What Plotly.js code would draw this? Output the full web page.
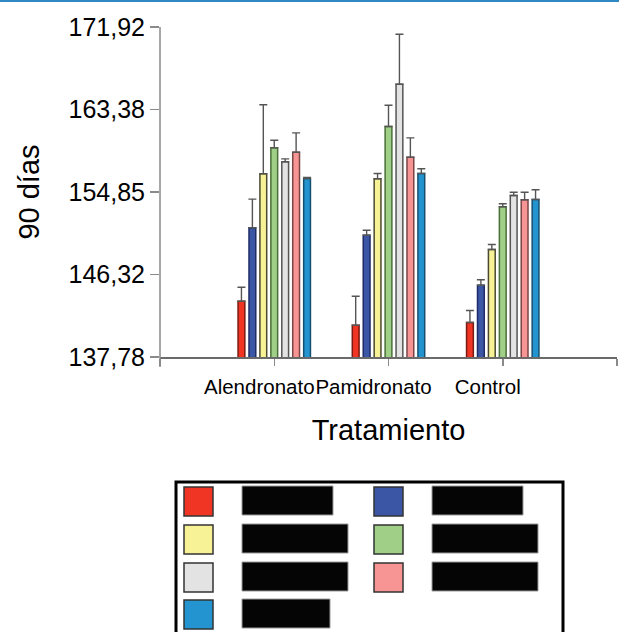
<!DOCTYPE html>
<html>
<head>
<meta charset="utf-8">
<script src="https://cdn.plot.ly/plotly-3.0.1.min.js"></script>
<style>
  html, body { margin: 0; padding: 0; background: #fff; }
  #chart { width: 619px; height: 632px; }
</style>
</head>
<body>
<div id="chart"></div>
<script>
// ---- data ----
const categories = ['Alendronato', 'Pamidronato', 'Control'];
const seriesNames = ['Serie 1', 'Serie 2', 'Serie 3', 'Serie 4', 'Serie 5', 'Serie 6', 'Serie 7'];
const s1 = [143.55, 141.07, 141.35];
const s2 = [151.15, 150.38, 145.21];
const s3 = [156.73, 156.21, 148.90];
const s4 = [159.42, 161.63, 153.32];
const s5 = [157.97, 166.00, 154.49];
const s6 = [158.97, 158.45, 154.04];
const s7 = [156.25, 156.76, 154.07];
const e1 = [1.45, 3.00, 1.24];
const e2 = [2.96, 0.52, 0.56];
const e3 = [7.14, 0.55, 0.52];
const e4 = [0.79, 2.20, 0.31];
const e5 = [0.31, 5.17, 0.34];
const e6 = [2.00, 2.00, 0.79];
const e7 = [0.10, 0.49, 1.01];
const yTickVals = [137.78, 146.32, 154.85, 163.38, 171.92];
const yTickText = ['137,78', '146,32', '154,85', '163,38', '171,92'];
const yTitle = '90 días';
const xTitle = 'Tratamiento';

// ---- styles ----
const fills = ['#f03524', '#3a56a5', '#f8f296', '#a0d088', '#e3e3e3', '#f79595', '#2394cf'];
const edges = ['#7a1a10', '#1f2c66', '#4a4a30', '#4a7038', '#555555', '#7a4545', '#155070'];
const values = [s1, s2, s3, s4, s5, s6, s7];
const errors = [e1, e2, e3, e4, e5, e6, e7];
const xPos = categories.map((c, i) => i + 1);

const traces = values.map((v, k) => ({
  type: 'bar',
  name: seriesNames[k],
  x: xPos,
  y: v,
  marker: { color: fills[k], line: { color: edges[k], width: 1.5 } },
  error_y: {
    type: 'data', symmetric: false, array: errors[k],
    arrayminus: errors[k].map(() => 0),
    color: '#555555', thickness: 1.4, width: 4
  },
  showlegend: false,
  hoverinfo: 'skip'
}));

// pixel -> paper helpers (plot area: x 160..617, y 27..357)
const L = 160, W = 457, T = 27, H = 330;
const px = x => (x - L) / W;
const py = y => (T + H - y) / H;

const shapes = [];
// top blue rule
shapes.push({ type: 'line', xref: 'paper', yref: 'paper', x0: px(0), x1: px(619), y0: py(1), y1: py(1),
  line: { color: '#2f88c4', width: 2 } });
// y axis line (extends below baseline)
shapes.push({ type: 'line', xref: 'paper', yref: 'paper', x0: 0, x1: 0, y0: py(367), y1: 1,
  line: { color: '#8a8a8a', width: 1.5 } });
// legend box
shapes.push({ type: 'rect', xref: 'paper', yref: 'paper', x0: px(176), x1: px(563), y0: py(645), y1: py(482),
  line: { color: '#000000', width: 3 }, fillcolor: 'rgba(0,0,0,0)' });
const colX = [184, 374];
const labX = [242, 432];
const rowY = [487, 525, 563, 600];
const labW = [91, 91, 106, 106, 106, 106, 88];
fills.forEach((c, i) => {
  const r = Math.floor(i / 2), col = i % 2;
  const x0 = colX[col], y0 = rowY[r];
  shapes.push({ type: 'rect', xref: 'paper', yref: 'paper',
    x0: px(x0), x1: px(x0 + 29), y0: py(y0 + 29), y1: py(y0),
    fillcolor: c, line: { color: '#333333', width: 1.5 } });
  shapes.push({ type: 'rect', xref: 'paper', yref: 'paper',
    x0: px(labX[col]), x1: px(labX[col] + labW[i]), y0: py(y0 + 28), y1: py(y0 - 1),
    fillcolor: '#050505', line: { color: '#9a9a9a', width: 1 } });
});

const font = 'Liberation Sans, Arial, sans-serif';
const layout = {
  width: 619, height: 632,
  margin: { l: L, r: 619 - L - W, t: T, b: 632 - T - H, pad: 0 },
  paper_bgcolor: '#ffffff', plot_bgcolor: '#ffffff',
  barmode: 'group', bargap: 0.33, bargroupgap: 0.38,
  showlegend: false,
  font: { family: font, color: '#000000' },
  xaxis: {
    range: [0, categories.length + 1],
    tickmode: 'array',
    tickvals: [0].concat(xPos, [categories.length + 1]),
    ticktext: [''].concat(categories, ['']),
    tickangle: 0,
    ticks: 'outside', ticklen: 7, tickwidth: 1.5, tickcolor: '#8a8a8a',
    ticklabelshift: -15, ticklabelstandoff: 4,
    tickfont: { size: 20.5, family: font, color: '#000' },
    showline: true, linecolor: '#6a6a6a', linewidth: 1.5,
    showgrid: false, zeroline: false, fixedrange: true,
    title: { text: xTitle, font: { size: 29, family: font, color: '#000' }, standoff: 22 }
  },
  yaxis: {
    range: [yTickVals[0], yTickVals[yTickVals.length - 1]],
    tickmode: 'array', tickvals: yTickVals, ticktext: yTickText,
    ticks: 'outside', ticklen: 9, tickwidth: 1.5, tickcolor: '#8a8a8a',
    tickfont: { size: 25, family: font, color: '#000' },
    showline: false, showgrid: false, zeroline: false, fixedrange: true,
    title: { text: yTitle, font: { size: 29, family: font, color: '#000' }, standoff: 20 }
  },
  shapes: shapes
};

Plotly.newPlot('chart', traces, layout, { displayModeBar: false, staticPlot: true });
</script>
</body>
</html>
